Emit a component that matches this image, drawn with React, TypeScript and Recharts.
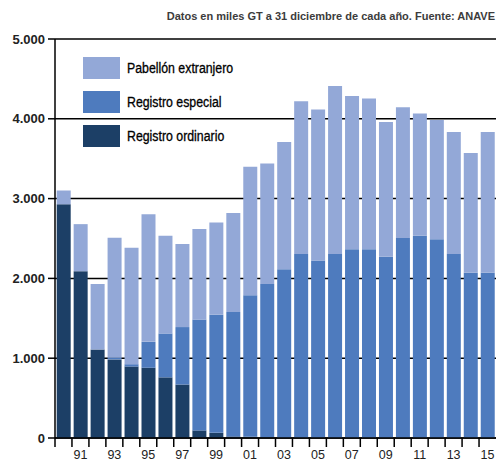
import React from 'react';
import { BarChart, Bar, XAxis, YAxis, CartesianGrid, Legend } from 'recharts';

const years = ['90','91','92','93','94','95','96','97','98','99','00','01','02','03','04','05','06','07','08','09','10','11','12','13','14','15'];
const ordinario = [2930,2090,1110,985,895,880,760,670,95,65,20,15,10,0,0,0,0,0,0,0,0,0,0,0,0,0];
const especial = [0,0,0,25,30,325,550,720,1390,1480,1560,1775,1920,2115,2305,2225,2305,2365,2365,2270,2505,2535,2490,2305,2070,2070];
const extranjero = [170,590,820,1500,1460,1600,1225,1040,1135,1155,1240,1610,1510,1595,1915,1890,2105,1920,1890,1690,1640,1530,1495,1530,1500,1765];
const yTicks = [0,1000,2000,3000,4000,5000];

const data = years.map((y, i) => ({ year: y, ordinario: ordinario[i], especial: especial[i], extranjero: extranjero[i] }));

const C_DARK = '#1c3f66';
const C_MID = '#4e7bbe';
const C_LIGHT = '#93a8d7';

const fmt = (v: number) => v === 0 ? '0' : v.toString().replace(/\B(?=(\d{3})+(?!\d))/g, '.');

const XTick = (props: any) => {
  const { x, y, payload, index } = props;
  const half = payload && payload.offset ? payload.offset : 441 / 26 / 2;
  const left = x - half;
  return (
    <g>
      <line x1={left} y1={y - 8} x2={left} y2={y + 1} stroke="#000" strokeWidth={1.5} />
      {index % 2 === 1 && (
        <text x={x} y={y + 13} textAnchor="middle" fontFamily="'Liberation Sans', Arial, sans-serif" fontSize={12.5} fill="#222">
          {payload.value}
        </text>
      )}
    </g>
  );
};

const LegendContent = (props: any) => {
  const items = [...(props.payload || [])];
  return (
    <div>
      {items.map((it: any) => (
        <div key={it.value} style={{ display: 'flex', alignItems: 'center', height: 22, marginBottom: 12 }}>
          <div style={{ width: 37, height: 22, background: it.color }} />
          <span style={{ marginLeft: 7, fontFamily: "'Liberation Sans', Arial, sans-serif", fontSize: 14, color: '#000', display: 'inline-block', transform: 'scaleX(0.88)', transformOrigin: 'left center', whiteSpace: 'nowrap', WebkitTextStroke: '0.3px #000' }}>{it.value}</span>
        </div>
      ))}
    </div>
  );
};

export default function App() {
  return (
    <div style={{ position: 'absolute', left: 0, top: 0, width: 496, height: 461, background: '#fff' }}>
      <BarChart width={496} height={461} data={data} margin={{ top: 39, right: 0, bottom: 0, left: 0 }} barCategoryGap="10%">
        <text x={495} y={20} textAnchor="end" fontFamily="'Liberation Sans', Arial, sans-serif" fontSize={11} fontWeight="bold" fill="#3c3c3c">
          Datos en miles GT a 31 diciembre de cada año. Fuente: ANAVE
        </text>
        <CartesianGrid vertical={false} stroke="#000" strokeWidth={1.5} />
        <XAxis dataKey="year" interval={0} height={23} tickLine={false} axisLine={{ stroke: '#000', strokeWidth: 1.5 }} tick={<XTick />} />
        <YAxis width={55} domain={[0, 5000]} ticks={yTicks} tickFormatter={fmt} tickSize={7} tickMargin={3}
          axisLine={{ stroke: '#000', strokeWidth: 1.5 }} tickLine={{ stroke: '#000', strokeWidth: 1.5 }}
          tick={{ fill: '#222', fontSize: 13, fontWeight: 'bold', fontFamily: "'Liberation Sans', Arial, sans-serif" }} />
        <Legend layout="vertical" align="center" verticalAlign="middle" content={<LegendContent />}
          wrapperStyle={{ top: 57, left: 83, width: 'auto', height: 'auto' }} />
        <Bar dataKey="ordinario" name="Registro ordinario" stackId="a" fill={C_DARK} isAnimationActive={false} />
        <Bar dataKey="especial" name="Registro especial" stackId="a" fill={C_MID} isAnimationActive={false} />
        <Bar dataKey="extranjero" name="Pabellón extranjero" stackId="a" fill={C_LIGHT} isAnimationActive={false} />
      </BarChart>
    </div>
  );
}
